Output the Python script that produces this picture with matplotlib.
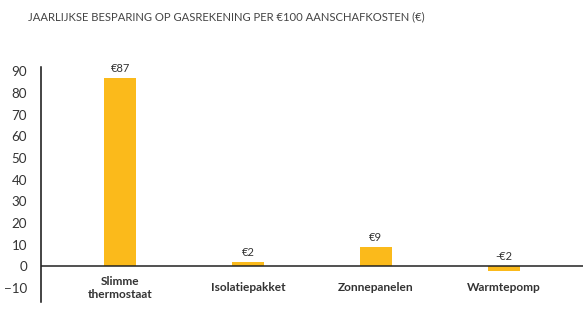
import matplotlib
matplotlib.use('Agg')
from matplotlib import pyplot as plt

plt.rcParams['font.family'] = ['Lato', 'DejaVu Sans']

# savings per 100 euro investment
categories = ['Slimme\nthermostaat', 'Isolatiepakket', 'Zonnepanelen', 'Warmtepomp']
savings = [87, 2, 9, -2]
value_labels = ['€87', '€2', '€9', '-€2']

title = 'JAARLIJKSE BESPARING OP GASREKENING PER €100 AANSCHAFKOSTEN (€)'
bar_color = '#FBBA1B'
text_color = '#333333'

fig = plt.figure(figsize=(5.87, 3.30), dpi=100)
ax = fig.add_axes([0.07, 0.085, 0.923, 0.712])

x = list(range(len(categories)))
ax.bar(x, savings, width=0.25, color=bar_color, zorder=2)

ax.set_xlim(-0.62, 3.62)
ax.set_ylim(-16.5, 92)
ax.set_yticks(range(-10, 100, 10))
ax.tick_params(axis='y', length=0, pad=10, labelsize=9.6, labelcolor=text_color)
ax.set_xticks([])

for side in ('top', 'right', 'bottom'):
    ax.spines[side].set_visible(False)
ax.spines['left'].set_color('#111111')
ax.spines['left'].set_linewidth(1.1)
ax.axhline(0, color='#222222', linewidth=1.1, zorder=3)

# value labels sit above the bar, or above the zero line for negatives
for xi, v, lab in zip(x, savings, value_labels):
    ax.annotate(lab, (xi, max(v, 0)), xytext=(0, 3), textcoords='offset points',
                ha='center', va='bottom', fontsize=8, color=text_color)

# category names under the zero line
for xi, cat in zip(x, categories):
    ax.text(xi, -10, cat, ha='center', va='center', fontsize=8.6,
            fontweight='bold', color=text_color, linespacing=1.25)

fig.text(28 / 587, 1 - 17 / 330, title, ha='left', va='center',
         fontsize=8.1, color='#444444')

fig.savefig('out.png', dpi=100)
